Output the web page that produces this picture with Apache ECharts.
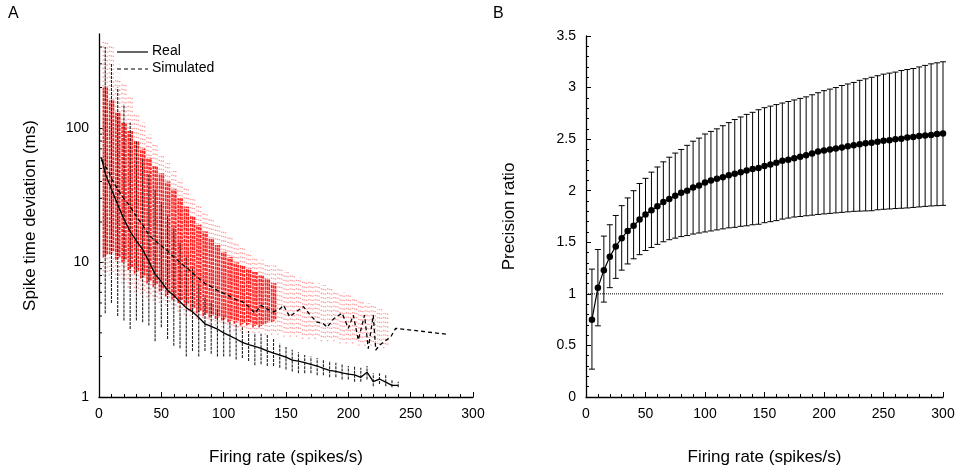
<!DOCTYPE html>
<html><head><meta charset="utf-8">
<script src="https://cdn.jsdelivr.net/npm/echarts@6/dist/echarts.min.js"></script>
<style>html,body{margin:0;padding:0;background:#fff}#c{width:962px;height:472px}</style>
</head><body><div id="c"></div>
<script>
// ---------- Panel A data ----------
const binX = [5,10,15,20,25,30,35,40,45,50,55,60,65,70,75,80,85,90,95,100,105,110,115,120,125,130,135,140,145,150,155,160,165,170,175,180,185,190,195,200,205,210,215,220,225,230,235,240];
const blackHi = [400,300,200,150,110,80,60,45,35,28,22,18,14,11,9,7,5.5,5,4.5,4,3.7,3.5,3.3,3.1,3.0,2.95,2.9,2.7,2.5,2.35,2.25,2.15,2.05,2.0,1.95,1.9,1.85,1.8,1.75,1.7,1.7,1.65,1.7,1.5,1.5,1.45,1.35,1.3];
const blackLo = [4.2,5.0,4.0,3.7,3.2,3.7,3.6,3.4,2.6,3.3,2.7,2.4,2.3,2.0,2.2,2.0,2.2,2.1,2.0,2.0,2.0,1.9,1.95,1.85,1.72,1.75,1.7,1.7,1.65,1.6,1.55,1.5,1.5,1.5,1.45,1.45,1.4,1.4,1.35,1.35,1.3,1.3,1.35,1.2,1.25,1.2,1.18,1.18];
const redX = [5,10,15,20,25,30,35,40,45,50,55,60,65,70,75,80,85,90,95,100,105,110,115,120,125,130,135,140];
const redHi = [200,160,130,110,95,80,70,60,52,46,40,35,30,26,22,19,17,15,13.5,12,11,10,9.5,9,8.5,8,7.5,7];
const redLo = [11,11.5,10.5,10,8.8,8.3,7.6,7.0,6.6,6.1,5.6,5.3,5.0,4.7,4.4,4.2,4.0,3.9,3.8,3.7,3.6,3.5,3.4,3.4,3.3,3.3,3.5,3.6];
const pinkX = [5,10,15,20,25,30,35,40,45,50,55,60,65,70,75,80,85,90,95,100,105,110,115,120,125,130,135,140,145,150,155,160,165,170,175,180,185,190,195,200,205,210,215,220,225,230];
const pinkHi = [450,420,300,220,170,130,110,90,75,62,55,48,42,36,31,27,24,21,19,17,15.5,14,13,12,11,10.5,10,9.5,9,8.5,8,7.8,7.5,7.2,7,6.8,6.5,6.2,6,5.7,5.4,5.2,5,4.8,4.5,4.2];
const pinkLo = [8,8,7.5,7,6.5,6,5.8,5.5,5.2,5,4.8,4.5,4.3,4.1,4.0,3.8,3.6,3.5,3.4,3.3,3.2,3.1,3.1,3.0,3.0,3.0,2.9,2.9,2.9,2.8,2.8,2.8,2.7,2.7,2.7,2.6,2.6,2.6,2.5,2.5,2.5,2.4,2.4,2.4,2.3,2.3];
const realX = [2,5,10,15,20,25,30,35,40,45,50,55,60,65,70,75,80,85,90,95,100,105,110,115,120,125,130,135,140,145,150,155,160,165,170,175,180,185,190,195,200,205,210,215,220,225,230,235,240];
const realY = [60,46,35,27,21,17,14.5,12.5,10.2,8.2,7.2,6.2,5.7,5.1,4.6,4.3,3.9,3.5,3.35,3.2,3.0,2.85,2.7,2.55,2.45,2.38,2.3,2.2,2.12,2.05,1.98,1.88,1.85,1.8,1.75,1.7,1.63,1.58,1.55,1.51,1.48,1.46,1.40,1.53,1.30,1.36,1.29,1.22,1.22];
const simX = [2,5,8,10,15,20,25,30,35,40,45,50,55,60,65,70,75,80,85,90,95,100,105,110,115,120,125,130,135,140,145,148,153,158,164,170,175,180,183,188,195,200,204,208,213,216,220,222,225,234,238,279];
const simY = [58,52,47,42,35,30,26,22,19,16,14.5,13.3,12.2,11,10,9.2,8.4,7.6,7.0,6.6,6.2,5.9,5.6,5.3,5.1,4.7,4.2,4.8,4.5,4.3,4.5,4.8,3.95,4.3,4.7,4.0,3.6,3.5,3.3,3.8,4.2,3.24,4.06,2.65,4.06,2.29,4.06,2.23,2.43,2.8,3.24,2.93];
const logMinorTicks = [2,3,4,5,6,7,8,9,20,30,40,50,60,70,80,90,200,300,400];

// ---------- Panel B data ----------
const rateX = [5,10,15,20,25,30,35,40,45,50,55,60,65,70,75,80,85,90,95,100,105,110,115,120,125,130,135,140,145,150,155,160,165,170,175,180,185,190,195,200,205,210,215,220,225,230,235,240,245,250,255,260,265,270,275,280,285,290,295,300];
const ratioMean = [0.75,1.06,1.23,1.36,1.46,1.54,1.61,1.66,1.72,1.77,1.81,1.85,1.89,1.92,1.95,1.98,2.00,2.03,2.05,2.08,2.10,2.115,2.13,2.15,2.165,2.18,2.195,2.21,2.22,2.24,2.255,2.27,2.29,2.30,2.315,2.33,2.345,2.36,2.38,2.39,2.40,2.41,2.42,2.43,2.44,2.45,2.46,2.465,2.475,2.485,2.49,2.50,2.505,2.515,2.52,2.53,2.535,2.54,2.55,2.555];
const ratioUpper = [1.24,1.43,1.56,1.67,1.76,1.855,1.93,2.00,2.07,2.12,2.18,2.23,2.28,2.325,2.365,2.40,2.44,2.48,2.51,2.55,2.575,2.60,2.63,2.66,2.69,2.715,2.74,2.76,2.785,2.805,2.82,2.835,2.85,2.865,2.88,2.895,2.91,2.93,2.95,2.97,2.985,3.00,3.02,3.035,3.05,3.07,3.085,3.10,3.115,3.13,3.14,3.15,3.165,3.175,3.185,3.20,3.215,3.23,3.24,3.25];
const ratioLower = [0.27,0.69,0.92,1.06,1.15,1.23,1.29,1.34,1.38,1.42,1.45,1.48,1.505,1.525,1.54,1.555,1.565,1.58,1.59,1.60,1.61,1.62,1.63,1.64,1.645,1.655,1.66,1.67,1.675,1.69,1.70,1.71,1.725,1.735,1.745,1.75,1.757,1.763,1.77,1.775,1.78,1.785,1.79,1.795,1.80,1.802,1.804,1.806,1.815,1.82,1.823,1.827,1.83,1.833,1.838,1.843,1.848,1.852,1.855,1.858];
const refX = [0,300];
const refY = [1,1];

// ---------- build ----------
const zip2 = (a,b)=>a.map((v,i)=>[v,b[i]]);
const zip3 = (a,b,c)=>a.map((v,i)=>[v,b[i],c[i]]);
const FONT = 'Liberation Sans, Arial, sans-serif';

// column of scattered dots, drawn as several thin dashed strokes across the bin
function dotColumn(color, width, dash, offsets){
  return function(params, api){
    const p1 = api.coord([api.value(0), api.value(1)]);
    const p2 = api.coord([api.value(0), api.value(2)]);
    return {type:'group', children: offsets.map((o,k)=>({type:'line',
      shape:{x1:p1[0]+o,y1:p1[1]-k*1.3,x2:p2[0]+o,y2:p2[1]},
      style:{stroke:color, lineWidth:width, lineDash:dash, lineDashOffset:k*1.7}}))};
  };
}

const chart = echarts.init(document.getElementById('c'), null, {renderer:'canvas'});
const axisCommon = {
  axisLine:{show:true, onZero:false, lineStyle:{color:'#000', width:1.3}},
  axisTick:{show:true, inside:true, length:5, lineStyle:{color:'#000'}},
  minorTick:{show:true, splitNumber:5, length:3, lineStyle:{color:'#000'}},
  splitLine:{show:false}, minorSplitLine:{show:false},
  axisLabel:{color:'#000', fontSize:14, fontFamily:FONT, margin:10},
  nameTextStyle:{color:'#000', fontSize:17, fontFamily:FONT},
  nameLocation:'middle'
};
const option = {
  animation:false,
  backgroundColor:'#fff',
  grid:[
    {left:99, top:34, width:374, height:363, containLabel:false},
    {left:586, top:36, width:357, height:361, containLabel:false}
  ],
  xAxis:[
    Object.assign({}, axisCommon, {gridIndex:0, type:'value', min:0, max:300, interval:50, name:'Firing rate (spikes/s)', nameGap:52}),
    Object.assign({}, axisCommon, {gridIndex:1, type:'value', min:0, max:300, interval:50, name:'Firing rate (spikes/s)', nameGap:52})
  ],
  yAxis:[
    Object.assign({}, axisCommon, {gridIndex:0, type:'log', logBase:10, min:1, max:500, name:'Spike time deviation (ms)', nameGap:60,
      minorTick:{show:false}, axisLabel:Object.assign({}, axisCommon.axisLabel, {showMaxLabel:false})}),
    Object.assign({}, axisCommon, {gridIndex:1, type:'value', min:0, max:3.5, interval:0.5, name:'Precision ratio', nameGap:68})
  ],
  graphic:[
    {type:'text', left:8, top:6, style:{text:'A', font:'16px '+FONT, fill:'#000'}},
    {type:'text', left:493, top:6, style:{text:'B', font:'16px '+FONT, fill:'#000'}},
    {type:'rect', shape:{x:114,y:42,width:108,height:36}, style:{fill:'rgba(255,255,255,0.75)'}, z:99},
    {type:'line', shape:{x1:117,y1:52,x2:148,y2:52}, style:{stroke:'#000', lineWidth:1.2}, z:100},
    {type:'text', left:152, top:44, style:{text:'Real', font:'14px '+FONT, fill:'#000'}, z:100},
    {type:'line', shape:{x1:117,y1:69,x2:148,y2:69}, style:{stroke:'#000', lineWidth:1.2, lineDash:[4,3]}, z:100},
    {type:'text', left:152, top:61, style:{text:'Simulated', font:'14px '+FONT, fill:'#000'}, z:100}
  ],
  series:[
    {type:'custom', xAxisIndex:0, yAxisIndex:0, renderItem:dotColumn('#ff9c9c', 1.4, [1.3,3], [-2,0,2]), data:zip3(pinkX,pinkLo,pinkHi), encode:{x:0,y:[1,2]}, z:1, silent:true},
    {type:'custom', xAxisIndex:0, yAxisIndex:0, renderItem:dotColumn('#ff1f1f', 1.6, [3,0.8], [-1.8,0.2,2]), data:zip3(redX,redLo,redHi), encode:{x:0,y:[1,2]}, z:2, silent:true},
    {type:'custom', xAxisIndex:0, yAxisIndex:0, renderItem:dotColumn('#222', 1.1, [3,1], [0]), data:zip3(binX,blackLo,blackHi), encode:{x:0,y:[1,2]}, z:3, silent:true},
    {type:'line', xAxisIndex:0, yAxisIndex:0, data:zip2(realX,realY), showSymbol:false, lineStyle:{color:'#000', width:1.3}, z:5},
    {type:'line', xAxisIndex:0, yAxisIndex:0, data:zip2(simX,simY), showSymbol:false, lineStyle:{color:'#000', width:1.3, type:[4,3]}, z:5},
    {type:'custom', xAxisIndex:0, yAxisIndex:0, data:logMinorTicks.map(v=>[0,v]), encode:{x:0,y:1}, z:6, silent:true,
      renderItem:function(params, api){ const p = api.coord([0, api.value(1)]);
        return {type:'line', shape:{x1:p[0],y1:p[1],x2:p[0]+3,y2:p[1]}, style:{stroke:'#000', lineWidth:1}}; }},
    // Panel B
    {type:'line', xAxisIndex:1, yAxisIndex:1, data:zip2(refX,refY), showSymbol:false, lineStyle:{color:'#000', width:1, type:[1,1]}, z:2},
    {type:'custom', xAxisIndex:1, yAxisIndex:1, data:zip3(rateX,ratioLower,ratioUpper), encode:{x:0,y:[1,2]}, z:3, silent:true,
      renderItem:function(params, api){
        const x = api.value(0);
        const lo = api.coord([x, api.value(1)]), hi = api.coord([x, api.value(2)]);
        const c = 3;
        return {type:'group', children:[
          {type:'line', shape:{x1:lo[0],y1:lo[1],x2:hi[0],y2:hi[1]}, style:{stroke:'#000', lineWidth:1}},
          {type:'line', shape:{x1:lo[0]-c,y1:lo[1],x2:lo[0]+c,y2:lo[1]}, style:{stroke:'#000', lineWidth:1}},
          {type:'line', shape:{x1:hi[0]-c,y1:hi[1],x2:hi[0]+c,y2:hi[1]}, style:{stroke:'#000', lineWidth:1}}
        ]};
      }},
    {type:'line', xAxisIndex:1, yAxisIndex:1, data:zip2(rateX,ratioMean), symbol:'circle', symbolSize:6.5, showSymbol:true,
      itemStyle:{color:'#000'}, lineStyle:{color:'#000', width:1.2}, z:5}
  ]
};
chart.setOption(option);
</script>
</body></html>
